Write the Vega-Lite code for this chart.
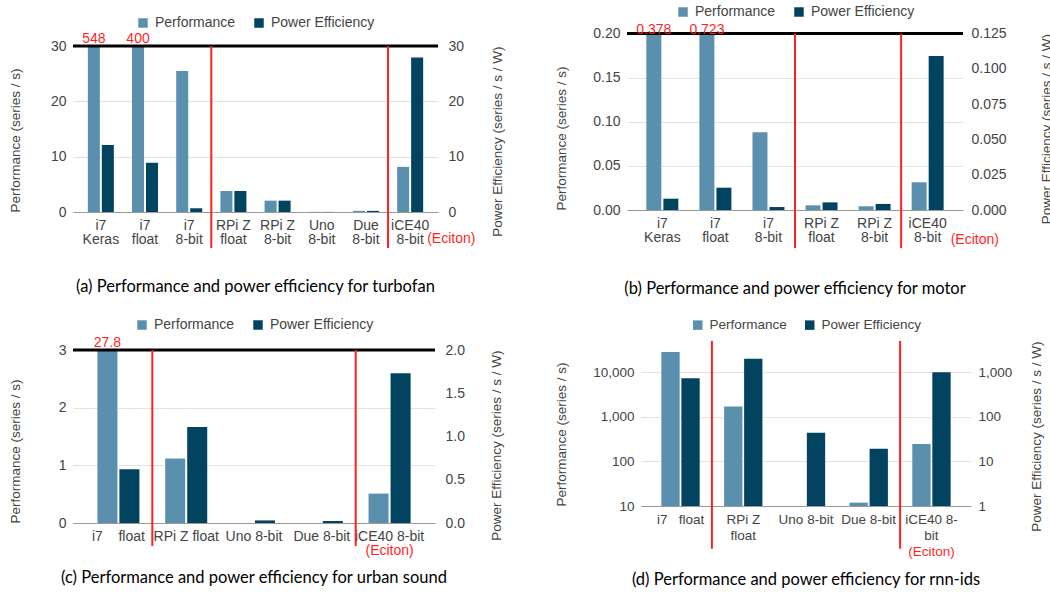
{
  "$schema": "https://vega.github.io/schema/vega-lite/v6.json",
  "padding": {"left": 8, "top": 3, "right": 0, "bottom": 0},
  "config": {
    "font": "Liberation Sans",
    "view": {"stroke": null},
    "axis": {"labelFont": "Liberation Sans", "titleFont": "Liberation Sans", "labelFontSize": 14, "labelColor": "#444", "titleFontSize": 13.5, "titleFontWeight": "normal", "titleColor": "#444", "ticks": false, "domain": false, "gridColor": "#e3e3e3", "labelPadding": 7, "labelOverlap": false},
    "axisX": {"domain": true, "domainColor": "#9a9a9a", "labelAngle": 0, "labelPadding": 6, "labelLineHeight": 14.5, "grid": false, "labelBaseline": "top"},
    "axisLeft": {"titleAnchor": "start"},
    "axisRight": {"titleAnchor": "end"},
    "legend": {"orient": "top", "title": null, "symbolType": "square", "symbolSize": 90, "labelFont": "Liberation Sans", "labelFontSize": 14, "labelColor": "#444", "columnPadding": 16, "labelOffset": 5, "symbolStrokeWidth": 0, "layout": {"top": {"anchor": "middle"}}},
    "text": {"font": "Liberation Sans"},
    "title": {"orient": "bottom", "font": "Lato", "fontSize": 16.5, "fontWeight": "normal", "color": "#000", "offset": 30, "anchor": "middle"}
  },
  "resolve": {"scale": {"color": "independent", "xOffset": "independent"}, "legend": {"color": "independent"}},
  "columns": 2,
  "align": "none",
  "bounds": "full",
  "spacing": {"row": 20, "column": 49},
  "concat": [
    {
      "width": 365, "height": 166,
      "title": {"text": "(a) Performance and power efficiency for turbofan"},
      "data": {"values": [
        {"cat": "i7|Keras", "series": "Performance", "value": 548},
        {"cat": "i7|Keras", "series": "Power Efficiency", "value": 12.1},
        {"cat": "i7|float", "series": "Performance", "value": 400},
        {"cat": "i7|float", "series": "Power Efficiency", "value": 8.9},
        {"cat": "i7|8-bit", "series": "Performance", "value": 25.5},
        {"cat": "i7|8-bit", "series": "Power Efficiency", "value": 0.7},
        {"cat": "RPi Z|float", "series": "Performance", "value": 3.8},
        {"cat": "RPi Z|float", "series": "Power Efficiency", "value": 3.8},
        {"cat": "RPi Z|8-bit", "series": "Performance", "value": 2.05},
        {"cat": "RPi Z|8-bit", "series": "Power Efficiency", "value": 2.05},
        {"cat": "Uno|8-bit", "series": "Performance", "value": 0.03},
        {"cat": "Uno|8-bit", "series": "Power Efficiency", "value": 0.02},
        {"cat": "Due|8-bit", "series": "Performance", "value": 0.2},
        {"cat": "Due|8-bit", "series": "Power Efficiency", "value": 0.2},
        {"cat": "iCE40|8-bit", "series": "Performance", "value": 8.15},
        {"cat": "iCE40|8-bit", "series": "Power Efficiency", "value": 27.9}
      ]},
      "layer": [
        {"layer": [
          {"transform": [{"filter": "datum.series === 'Performance'"}],
           "mark": {"type": "bar", "clip": true},
           "encoding": {
             "x": {"field": "cat", "type": "nominal", "scale": {"domain": ["i7|Keras", "i7|float", "i7|8-bit", "RPi Z|float", "RPi Z|8-bit", "Uno|8-bit", "Due|8-bit", "iCE40|8-bit"], "paddingInner": 0, "paddingOuter": 0.13}, "axis": {"title": null, "labelExpr": "split(datum.label, '|')"}},
             "xOffset": {"field": "series", "type": "nominal", "scale": {"domain": ["Performance", "Power Efficiency"], "paddingInner": 0.14, "paddingOuter": 0.65}},
             "y": {"field": "value", "type": "quantitative", "scale": {"domain": [0, 30]}, "axis": {"title": "Performance (series / s)", "values": [0, 10, 20, 30], "titlePadding": 28}},
             "color": {"field": "series", "type": "nominal", "scale": {"domain": ["Performance", "Power Efficiency"], "range": ["#5b8fae", "#02435f"]}, "legend": {"offset": 3, "padding": 13}}
           }},
          {"data": {"values": [{"limit": 30}]}, "mark": {"type": "rule", "color": "#000", "strokeWidth": 3}, "encoding": {"y": {"field": "limit", "type": "quantitative"}}},
          {"data": {"values": [{"cat": "i7|8-bit"}, {"cat": "Due|8-bit"}]}, "mark": {"type": "rule", "color": "#ff1f1f", "strokeWidth": 2}, "encoding": {"x": {"field": "cat", "type": "nominal", "bandPosition": 1}, "y": {"datum": 30}, "y2": {"datum": -6.5}}},
          {"transform": [{"filter": "datum.series === 'Performance' && datum.value > 30"}], "mark": {"type": "text", "color": "#ff1f1f", "fontSize": 14, "baseline": "alphabetic", "dy": -3}, "encoding": {"x": {"field": "cat", "type": "nominal"}, "xOffset": {"field": "series", "type": "nominal"}, "y": {"datum": 30}, "text": {"field": "value", "type": "nominal"}}},
          {"data": {"values": [{"cat": "iCE40|8-bit", "note": "(Eciton)"}]}, "mark": {"type": "text", "color": "#ff1f1f", "fontSize": 14, "align": "left", "baseline": "middle", "dx": 17, "dy": 27}, "encoding": {"x": {"field": "cat", "type": "nominal"}, "y": {"datum": 0}, "text": {"field": "note", "type": "nominal"}}}
        ]},
        {"transform": [{"filter": "datum.series === 'Power Efficiency'"}],
         "mark": {"type": "bar", "clip": true},
         "encoding": {
           "x": {"field": "cat", "type": "nominal"},
           "xOffset": {"field": "series", "type": "nominal"},
           "y": {"field": "value", "type": "quantitative", "scale": {"domain": [0, 30]}, "axis": {"orient": "right", "grid": false, "title": "Power Efficiency (series / s / W)", "values": [0, 10, 20, 30], "labelPadding": 10, "titlePadding": 41, "titleAngle": 270}},
           "color": {"field": "series", "type": "nominal", "legend": {"offset": 3, "padding": 13}}
         }}
      ],
      "resolve": {"scale": {"y": "independent"}}
    },
    {
      "width": 336, "height": 164,
      "title": {"text": "(b) Performance and power efficiency for motor", "offset": 32},
      "data": {"values": [
        {"cat": "i7|Keras", "series": "Performance", "value": 0.378},
        {"cat": "i7|Keras", "series": "Power Efficiency", "value": 0.008},
        {"cat": "i7|float", "series": "Performance", "value": 0.723},
        {"cat": "i7|float", "series": "Power Efficiency", "value": 0.0158},
        {"cat": "i7|8-bit", "series": "Performance", "value": 0.0881},
        {"cat": "i7|8-bit", "series": "Power Efficiency", "value": 0.0021},
        {"cat": "RPi Z|float", "series": "Performance", "value": 0.0053},
        {"cat": "RPi Z|float", "series": "Power Efficiency", "value": 0.0054},
        {"cat": "RPi Z|8-bit", "series": "Performance", "value": 0.0042},
        {"cat": "RPi Z|8-bit", "series": "Power Efficiency", "value": 0.0043},
        {"cat": "iCE40|8-bit", "series": "Performance", "value": 0.0314},
        {"cat": "iCE40|8-bit", "series": "Power Efficiency", "value": 0.109}
      ]},
      "layer": [
        {"layer": [
          {"transform": [{"filter": "datum.series === 'Performance'"}],
           "mark": {"type": "bar", "clip": false},
           "encoding": {
             "x": {"field": "cat", "type": "nominal", "scale": {"domain": ["i7|Keras", "i7|float", "i7|8-bit", "RPi Z|float", "RPi Z|8-bit", "iCE40|8-bit"], "paddingInner": 0, "paddingOuter": 0.166}, "axis": {"title": null, "labelExpr": "split(datum.label, '|')"}},
             "xOffset": {"field": "series", "type": "nominal", "scale": {"domain": ["Performance", "Power Efficiency"], "paddingInner": 0.12, "paddingOuter": 0.62}},
             "y": {"field": "value", "type": "quantitative", "scale": {"domain": [0, 0.2], "range": [164, -12.5], "clamp": true, "nice": false}, "axis": {"title": "Performance (series / s)", "values": [0, 0.05, 0.1, 0.15, 0.2], "format": ".2f", "titlePadding": 24}},
             "color": {"field": "series", "type": "nominal", "scale": {"domain": ["Performance", "Power Efficiency"], "range": ["#5b8fae", "#02435f"]}, "legend": {"offset": 27}}
           }},
          {"data": {"values": [{"limit": 0.2}]}, "mark": {"type": "rule", "color": "#000", "strokeWidth": 3}, "encoding": {"y": {"field": "limit", "type": "quantitative"}}},
          {"transform": [{"filter": "datum.series === 'Performance' && datum.value > 0.2"}], "mark": {"type": "text", "color": "#ff1f1f", "fontSize": 14, "baseline": "alphabetic", "dy": 0}, "encoding": {"x": {"field": "cat", "type": "nominal"}, "xOffset": {"field": "series", "type": "nominal"}, "y": {"datum": 0.2}, "text": {"field": "value", "type": "nominal"}}},
          {"data": {"values": [{"cat": "iCE40|8-bit", "note": "(Eciton)"}]}, "mark": {"type": "text", "color": "#ff1f1f", "fontSize": 14, "align": "left", "baseline": "middle", "dx": 23, "dy": 30}, "encoding": {"x": {"field": "cat", "type": "nominal"}, "y": {"datum": 0}, "text": {"field": "note", "type": "nominal"}}}
        ]},
        {"layer": [
          {"transform": [{"filter": "datum.series === 'Power Efficiency'"}],
           "mark": {"type": "bar", "clip": false},
           "encoding": {
             "x": {"field": "cat", "type": "nominal"},
             "xOffset": {"field": "series", "type": "nominal"},
             "y": {"field": "value", "type": "quantitative", "scale": {"domain": [0, 0.125], "range": [164, -12.5], "nice": false}, "axis": {"orient": "right", "grid": false, "title": "Power Efficiency (series / s / W)", "values": [0, 0.025, 0.05, 0.075, 0.1, 0.125], "format": ".3f", "labelPadding": 8, "titlePadding": 47, "titleAngle": 270}},
             "color": {"field": "series", "type": "nominal", "legend": {"offset": 27}}
           }},
          {"data": {"values": [{"cat": "i7|8-bit"}, {"cat": "RPi Z|8-bit"}]}, "mark": {"type": "rule", "color": "#ff1f1f", "strokeWidth": 2}, "encoding": {"x": {"field": "cat", "type": "nominal", "bandPosition": 1}, "y": {"datum": 0.125, "type": "quantitative", "scale": {"domain": [0, 0.125], "range": [164, -12.5], "nice": false}, "axis": {"orient": "right", "grid": false, "title": "Power Efficiency (series / s / W)", "values": [0, 0.025, 0.05, 0.075, 0.1, 0.125], "format": ".3f", "labelPadding": 8, "titlePadding": 47, "titleAngle": 270}}, "y2": {"datum": -0.027}}}
        ]}
      ],
      "resolve": {"scale": {"y": "independent"}}
    },
    {
      "width": 362, "height": 173,
      "title": {"text": "(c) Performance and power efficiency for urban sound", "offset": 12},
      "data": {"values": [
        {"cat": "i7\u00a0\u00a0\u00a0\u00a0float", "series": "Performance", "value": 27.8},
        {"cat": "i7\u00a0\u00a0\u00a0\u00a0float", "series": "Power Efficiency", "value": 0.62},
        {"cat": "RPi Z float", "series": "Performance", "value": 1.12},
        {"cat": "RPi Z float", "series": "Power Efficiency", "value": 1.11},
        {"cat": "Uno 8-bit", "series": "Performance", "value": 0},
        {"cat": "Uno 8-bit", "series": "Power Efficiency", "value": 0.03},
        {"cat": "Due 8-bit", "series": "Performance", "value": 0},
        {"cat": "Due 8-bit", "series": "Power Efficiency", "value": 0.023},
        {"cat": "iCE40 8-bit", "series": "Performance", "value": 0.51},
        {"cat": "iCE40 8-bit", "series": "Power Efficiency", "value": 1.73}
      ]},
      "layer": [
        {"layer": [
          {"transform": [{"filter": "datum.series === 'Performance'"}],
           "mark": {"type": "bar", "clip": true},
           "encoding": {
             "x": {"field": "cat", "type": "nominal", "scale": {"domain": ["i7\u00a0\u00a0\u00a0\u00a0float", "RPi Z float", "Uno 8-bit", "Due 8-bit", "iCE40 8-bit"], "paddingInner": 0, "paddingOuter": 0.17}, "axis": {"title": null}},
             "xOffset": {"field": "series", "type": "nominal", "scale": {"domain": ["Performance", "Power Efficiency"], "paddingInner": 0.09, "paddingOuter": 0.585}},
             "y": {"field": "value", "type": "quantitative", "scale": {"domain": [0, 3]}, "axis": {"title": "Performance (series / s)", "values": [0, 1, 2, 3], "format": "d", "titlePadding": 36}},
             "color": {"field": "series", "type": "nominal", "scale": {"domain": ["Performance", "Power Efficiency"], "range": ["#5b8fae", "#02435f"]}, "legend": {"offset": 18}}
           }},
          {"data": {"values": [{"limit": 3}]}, "mark": {"type": "rule", "color": "#000", "strokeWidth": 3}, "encoding": {"y": {"field": "limit", "type": "quantitative"}}},
          {"data": {"values": [{"cat": "i7\u00a0\u00a0\u00a0\u00a0float"}, {"cat": "Due 8-bit"}]}, "mark": {"type": "rule", "color": "#ff1f1f", "strokeWidth": 2}, "encoding": {"x": {"field": "cat", "type": "nominal", "bandPosition": 1}, "y": {"datum": 3}, "y2": {"datum": -0.4}}},
          {"transform": [{"filter": "datum.series === 'Performance' && datum.value > 3"}], "mark": {"type": "text", "color": "#ff1f1f", "fontSize": 14, "baseline": "alphabetic", "dy": -3}, "encoding": {"x": {"field": "cat", "type": "nominal"}, "xOffset": {"field": "series", "type": "nominal"}, "y": {"datum": 3}, "text": {"field": "value", "type": "nominal"}}},
          {"data": {"values": [{"cat": "iCE40 8-bit", "note": "(Eciton)"}]}, "mark": {"type": "text", "color": "#ff1f1f", "fontSize": 14, "align": "center", "baseline": "middle", "dy": 27.5}, "encoding": {"x": {"field": "cat", "type": "nominal"}, "y": {"datum": 0}, "text": {"field": "note", "type": "nominal"}}}
        ]},
        {"transform": [{"filter": "datum.series === 'Power Efficiency'"}],
         "mark": {"type": "bar", "clip": true},
         "encoding": {
           "x": {"field": "cat", "type": "nominal"},
           "xOffset": {"field": "series", "type": "nominal"},
           "y": {"field": "value", "type": "quantitative", "scale": {"domain": [0, 2]}, "axis": {"orient": "right", "grid": false, "title": "Power Efficiency (series / s / W)", "values": [0, 0.5, 1, 1.5, 2], "format": ".1f", "labelPadding": 10, "titlePadding": 39, "titleAngle": 270}},
           "color": {"field": "series", "type": "nominal", "legend": {"offset": 18}}
         }}
      ],
      "resolve": {"scale": {"y": "independent"}}
    },
    {
      "width": 330, "height": 155,
      "title": {"text": "(d) Performance and power efficiency for rnn-ids", "offset": 13},
      "data": {"values": [
        {"cat": "i7\u00a0\u00a0\u00a0float", "series": "Performance", "value": 28500},
        {"cat": "i7\u00a0\u00a0\u00a0float", "series": "Power Efficiency", "value": 734},
        {"cat": "RPi Z|float", "series": "Performance", "value": 1700},
        {"cat": "RPi Z|float", "series": "Power Efficiency", "value": 1990},
        {"cat": "Uno 8-bit", "series": "Power Efficiency", "value": 43.8},
        {"cat": "Due 8-bit", "series": "Performance", "value": 11.9},
        {"cat": "Due 8-bit", "series": "Power Efficiency", "value": 19.2},
        {"cat": "iCE40 8-|bit", "series": "Performance", "value": 244},
        {"cat": "iCE40 8-|bit", "series": "Power Efficiency", "value": 1000}
      ]},
      "layer": [
        {"layer": [
          {"transform": [{"filter": "datum.series === 'Performance'"}],
           "mark": {"type": "bar", "clip": false},
           "encoding": {
             "x": {"field": "cat", "type": "nominal", "scale": {"domain": ["i7\u00a0\u00a0\u00a0float", "RPi Z|float", "Uno 8-bit", "Due 8-bit", "iCE40 8-|bit"], "paddingInner": 0, "paddingOuter": 0.13}, "axis": {"title": null, "labelExpr": "split(datum.label, '|')", "labelFontSize": 13.5, "labelLineHeight": 16.5}},
             "xOffset": {"field": "series", "type": "nominal", "scale": {"domain": ["Performance", "Power Efficiency"], "paddingInner": 0.085, "paddingOuter": 0.61}},
             "y": {"field": "value", "type": "quantitative", "scale": {"type": "log", "domain": [10, 50000], "range": [155, -10], "nice": false}, "axis": {"title": "Performance (series / s)", "values": [10, 100, 1000, 10000], "format": ",", "labelFontSize": 13.5, "titlePadding": 24}},
             "y2": {"datum": 10},
             "color": {"field": "series", "type": "nominal", "scale": {"domain": ["Performance", "Power Efficiency"], "range": ["#5b8fae", "#02435f"]}, "legend": {"offset": 19, "labelFontSize": 13.5}}
           }},
          {"data": {"values": [{"cat": "i7\u00a0\u00a0\u00a0float"}, {"cat": "Due 8-bit"}]}, "mark": {"type": "rule", "color": "#ff1f1f", "strokeWidth": 2}, "encoding": {"x": {"field": "cat", "type": "nominal", "bandPosition": 1}, "y": {"datum": 50000}, "y2": {"datum": 1.1}}},
          {"data": {"values": [{"cat": "iCE40 8-|bit", "note": "(Eciton)"}]}, "mark": {"type": "text", "color": "#ff1f1f", "fontSize": 13.5, "align": "center", "baseline": "middle", "dy": 46}, "encoding": {"x": {"field": "cat", "type": "nominal"}, "y": {"datum": 10}, "text": {"field": "note", "type": "nominal"}}}
        ]},
        {"transform": [{"filter": "datum.series === 'Power Efficiency'"}],
         "mark": {"type": "bar", "clip": false},
         "encoding": {
           "x": {"field": "cat", "type": "nominal"},
           "xOffset": {"field": "series", "type": "nominal"},
           "y": {"field": "value", "type": "quantitative", "scale": {"type": "log", "domain": [1, 5000], "range": [155, -10], "nice": false}, "axis": {"orient": "right", "grid": false, "title": "Power Efficiency (series / s / W)", "values": [1, 10, 100, 1000], "format": ",", "labelFontSize": 13.5, "labelPadding": 7, "titlePadding": 32, "titleAngle": 270}},
           "y2": {"datum": 1},
           "color": {"field": "series", "type": "nominal", "legend": {"offset": 19, "labelFontSize": 13.5}}
         }}
      ],
      "resolve": {"scale": {"y": "independent"}}
    }
  ]
}
